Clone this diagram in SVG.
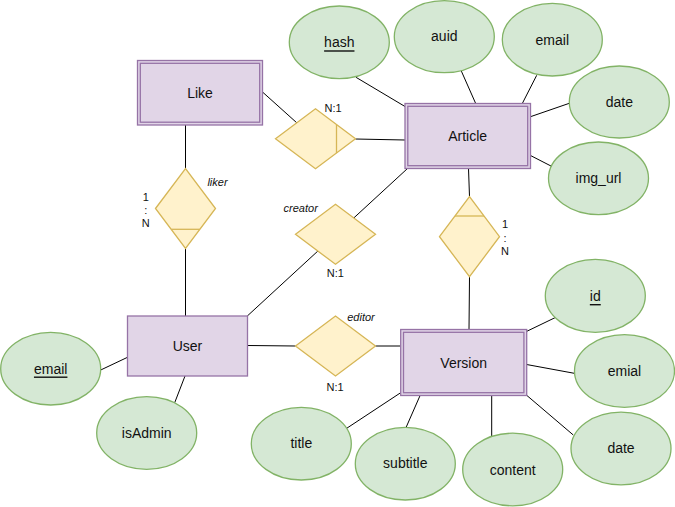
<svg xmlns="http://www.w3.org/2000/svg" width="675" height="507" viewBox="0 0 675 507">
  <style>
    .entity { fill: #e1d5e7; stroke: #9673a6; stroke-width: 1.3; }
    .rel { fill: #fff2cc; stroke: #d6b656; stroke-width: 1.3; }
    .attr { fill: #d5e8d4; stroke: #82b366; stroke-width: 1.3; }
    .edge { stroke: #000; stroke-width: 1; fill: none; }
    .lbl { font-family: "Liberation Sans", Arial, sans-serif; font-size: 14px; fill: #111; text-anchor: middle; dominant-baseline: central; }
    .small { font-family: "Liberation Sans", Arial, sans-serif; font-size: 11px; fill: #111; text-anchor: middle; dominant-baseline: central; }
    .it { font-style: italic; }
    .key { text-decoration: underline; }
  </style>

  <!-- connectors -->
  <g id="connectors" class="edge">
    <line x1="262.5" y1="92" x2="297" y2="123"/>
    <line x1="355.5" y1="139" x2="405" y2="140"/>
    <line x1="185.5" y1="125" x2="185.5" y2="168.5"/>
    <line x1="185.5" y1="248.5" x2="185.5" y2="316"/>
    <line x1="407.5" y1="168.5" x2="247.3" y2="316"/>
    <line x1="247.5" y1="345.5" x2="295.5" y2="346"/>
    <line x1="375.5" y1="346" x2="400.5" y2="346"/>
    <line x1="468.5" y1="168.5" x2="469.5" y2="196.7"/>
    <line x1="469.5" y1="276.7" x2="469" y2="329.5"/>
    <!-- Article attributes -->
    <line x1="356" y1="77.3" x2="405" y2="106.5"/>
    <line x1="461" y1="70.3" x2="475.7" y2="103.5"/>
    <line x1="536.7" y1="75.3" x2="522.3" y2="103.5"/>
    <line x1="569.3" y1="103.3" x2="530.5" y2="116.7"/>
    <line x1="552.3" y1="166.7" x2="530.5" y2="155.5"/>
    <!-- User attributes -->
    <line x1="100.7" y1="370" x2="127.5" y2="357.3"/>
    <line x1="174.7" y1="402.7" x2="185" y2="376"/>
    <!-- Version attributes -->
    <line x1="526" y1="331.7" x2="555" y2="317.7"/>
    <line x1="525.5" y1="364.3" x2="574.3" y2="373.3"/>
    <line x1="525.5" y1="394.3" x2="573.3" y2="435"/>
    <line x1="346.7" y1="428.3" x2="400.7" y2="392.7"/>
    <line x1="405.7" y1="428.3" x2="420" y2="395.7"/>
    <line x1="491.7" y1="436.7" x2="491.7" y2="395.7"/>
  </g>

  <!-- entities -->
  <g id="like">
    <rect class="entity" x="137.5" y="60.5" width="125" height="64.5"/>
    <rect class="entity" x="140.3" y="63.3" width="119.4" height="58.9"/>
    <text class="lbl" x="200" y="93">Like</text>
  </g>
  <g id="article">
    <rect class="entity" x="405" y="103.5" width="125.5" height="65"/>
    <rect class="entity" x="407.8" y="106.3" width="119.9" height="59.4"/>
    <text class="lbl" x="467.7" y="136">Article</text>
  </g>
  <g id="version">
    <rect class="entity" x="400.7" y="329.5" width="126" height="66"/>
    <rect class="entity" x="403.5" y="332.3" width="120.4" height="60.4"/>
    <text class="lbl" x="463.7" y="362.5">Version</text>
  </g>
  <g id="user">
    <rect class="entity" x="127.5" y="316" width="120" height="60"/>
    <text class="lbl" x="187.5" y="345.5">User</text>
  </g>

  <!-- relationships -->
  <g id="like-article">
    <polygon class="rel" points="275.5,138.8 315.5,108.8 355.5,138.8 315.5,168.8"/>
    <line class="rel" x1="336.5" y1="124.6" x2="336.5" y2="153"/>
    <text class="small" x="333" y="108">N:1</text>
  </g>
  <g id="liker">
    <polygon class="rel" points="155.5,208.5 185.5,168.5 215.5,208.5 185.5,248.5"/>
    <line class="rel" x1="171.3" y1="229.3" x2="199.7" y2="229.3"/>
    <text class="small it" x="217.5" y="181.5">liker</text>
    <text class="small" x="145.7" y="196.7">1</text>
    <text class="small" x="145.7" y="209.5">:</text>
    <text class="small" x="145.7" y="222.7">N</text>
  </g>
  <g id="creator">
    <polygon class="rel" points="295.5,234.3 335.5,204.3 375.5,234.3 335.5,264.3"/>
    <text class="small it" x="300.7" y="208.3">creator</text>
    <text class="small" x="335.3" y="273.3">N:1</text>
  </g>
  <g id="editor">
    <polygon class="rel" points="295.5,346 335.5,316 375.5,346 335.5,376"/>
    <text class="small it" x="361" y="316.5">editor</text>
    <text class="small" x="335" y="387.3">N:1</text>
  </g>
  <g id="article-version">
    <polygon class="rel" points="439.5,236.7 469.5,196.7 499.5,236.7 469.5,276.7"/>
    <line class="rel" x1="455" y1="216" x2="484" y2="216"/>
    <text class="small" x="505" y="224.3">1</text>
    <text class="small" x="505" y="237.5">:</text>
    <text class="small" x="505" y="251">N</text>
  </g>

  <!-- attributes -->
  <g id="attr-hash">
    <ellipse class="attr" cx="339.3" cy="42.3" rx="50" ry="36.3"/>
    <text class="lbl key" x="339.3" y="42.3">hash</text>
  </g>
  <g id="attr-auid">
    <ellipse class="attr" cx="444.3" cy="36.7" rx="50" ry="36"/>
    <text class="lbl" x="444.3" y="36">auid</text>
  </g>
  <g id="attr-article-email">
    <ellipse class="attr" cx="552.3" cy="39.7" rx="50" ry="36.3"/>
    <text class="lbl" x="552.3" y="39.5">email</text>
  </g>
  <g id="attr-article-date">
    <ellipse class="attr" cx="619.3" cy="102" rx="50" ry="36"/>
    <text class="lbl" x="619.3" y="101.7">date</text>
  </g>
  <g id="attr-img-url">
    <ellipse class="attr" cx="598.5" cy="178.3" rx="50" ry="36.3"/>
    <text class="lbl" x="598.5" y="178">img_url</text>
  </g>
  <g id="attr-user-email">
    <ellipse class="attr" cx="50.7" cy="368.7" rx="50" ry="36.3"/>
    <text class="lbl key" x="50.7" y="368.5">email</text>
  </g>
  <g id="attr-isadmin">
    <ellipse class="attr" cx="146.7" cy="433" rx="50" ry="36.3"/>
    <text class="lbl" x="146.7" y="433">isAdmin</text>
  </g>
  <g id="attr-id">
    <ellipse class="attr" cx="595.3" cy="295.8" rx="50" ry="36.5"/>
    <text class="lbl key" x="595.3" y="296">id</text>
  </g>
  <g id="attr-emial">
    <ellipse class="attr" cx="624.5" cy="371" rx="50" ry="36.3"/>
    <text class="lbl" x="624.5" y="371">emial</text>
  </g>
  <g id="attr-version-date">
    <ellipse class="attr" cx="621" cy="448.5" rx="50" ry="36.3"/>
    <text class="lbl" x="621" y="448">date</text>
  </g>
  <g id="attr-title">
    <ellipse class="attr" cx="301.3" cy="443.7" rx="50" ry="36.3"/>
    <text class="lbl" x="301.3" y="443">title</text>
  </g>
  <g id="attr-subtitle">
    <ellipse class="attr" cx="405.3" cy="463.7" rx="50" ry="36.3"/>
    <text class="lbl" x="405.3" y="463">subtitle</text>
  </g>
  <g id="attr-content">
    <ellipse class="attr" cx="512.7" cy="469.5" rx="50" ry="36.3"/>
    <text class="lbl" x="512.7" y="469.5">content</text>
  </g>
</svg>
